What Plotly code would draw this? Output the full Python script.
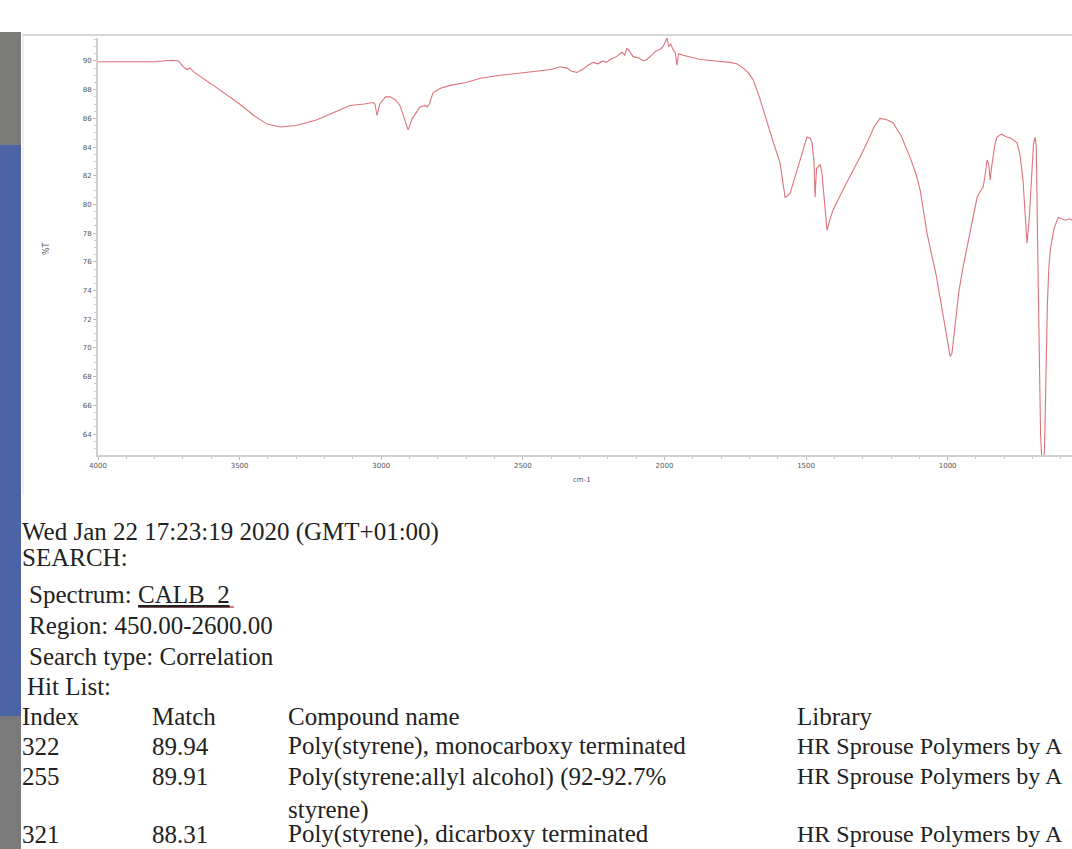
import plotly.graph_objects as go

# ---- data ----
wavenumber = [4000, 3900, 3800, 3740, 3715, 3700, 3686, 3675, 3660, 3600, 3500, 3450, 3403, 3357,
              3300, 3227, 3160, 3110, 3060, 3029, 3022, 3015, 3005, 2985, 2969, 2950, 2934, 2920,
              2905, 2890, 2863, 2845, 2838, 2830, 2817, 2790, 2757, 2700, 2650, 2580, 2500, 2450,
              2400, 2369, 2344, 2330, 2309, 2290, 2270, 2252, 2235, 2217, 2205, 2192, 2170, 2150,
              2140, 2133, 2120, 2111, 2090, 2075, 2062, 2045, 2030, 2016, 2005, 1998, 1991, 1985,
              1978, 1970, 1962, 1956, 1950, 1934, 1900, 1874, 1820, 1768, 1745, 1722, 1705, 1687,
              1665, 1638, 1615, 1592, 1580, 1574, 1565, 1556, 1530, 1510, 1497, 1485, 1479, 1472,
              1468, 1463, 1458, 1450, 1444, 1435, 1426, 1415, 1405, 1370, 1340, 1309, 1280, 1260,
              1239, 1215, 1193, 1165, 1133, 1110, 1097, 1073, 1040, 1010, 995, 991, 985, 975, 960,
              946, 931, 915, 896, 885, 875, 868, 861, 855, 850, 845, 840, 833, 826, 810, 791, 775,
              755, 745, 734, 725, 720, 712, 706, 702, 697, 691, 687, 683, 678, 672, 667, 663, 658,
              654, 648, 643, 638, 625, 610, 598, 585, 570, 561]
transmittance = [89.95, 89.95, 89.95, 90.05, 90.0, 89.6, 89.4, 89.5, 89.2, 88.4, 87.0, 86.2, 85.6, 85.4,
                 85.5, 85.9, 86.5, 86.9, 87.0, 87.1, 87.0, 86.2, 87.0, 87.5, 87.5, 87.3, 86.9, 86.0,
                 85.2, 86.0, 86.8, 86.9, 86.8, 87.0, 87.8, 88.1, 88.3, 88.5, 88.8, 89.0, 89.2, 89.3,
                 89.4, 89.6, 89.5, 89.3, 89.2, 89.4, 89.7, 89.9, 89.8, 90.0, 89.9, 90.1, 90.3, 90.6,
                 90.4, 90.9, 90.6, 90.3, 90.2, 90.0, 90.1, 90.4, 90.7, 90.8, 91.0, 91.3, 91.6, 91.0,
                 91.2, 90.8, 90.6, 89.7, 90.5, 90.4, 90.2, 90.1, 90.0, 89.9, 89.8, 89.5, 89.2, 88.7,
                 87.5, 85.7, 84.3, 82.9, 81.5, 80.5, 80.6, 80.8, 82.5, 83.9, 84.7, 84.6, 84.3, 83.0,
                 80.5, 82.5, 82.6, 82.8, 82.2, 80.0, 78.2, 79.0, 79.6, 81.0, 82.1, 83.3, 84.5, 85.4,
                 86.0, 85.9, 85.7, 84.8, 83.3, 82.0, 81.0, 78.0, 75.0, 71.5, 69.6, 69.4, 69.6, 71.5, 74.0,
                 75.6, 77.0, 78.5, 80.5, 80.9, 81.2, 82.0, 83.1, 82.8, 81.7, 82.6, 83.3, 84.2, 84.7, 84.9, 84.7, 84.6,
                 84.3, 83.5, 81.7, 78.5, 77.3, 79.0, 81.5, 82.9, 84.2, 84.7, 84.0, 78.0, 70.0, 64.0, 62.0, 61.5, 63.0,
                 68.0, 73.0, 75.5, 76.8, 78.3, 79.1, 79.0, 78.9, 79.0, 78.9]

y_ticks = [64, 66, 68, 70, 72, 74, 76, 78, 80, 82, 84, 86, 88, 90]
x_ticks = [4000, 3500, 3000, 2500, 2000, 1500, 1000]

header_lines = ["Wed Jan 22 17:23:19 2020 (GMT+01:00)", "SEARCH:"]
search_lines = ["Spectrum: <u>CALB_2</u>", "Region: 450.00-2600.00", "Search type: Correlation", "Hit List:"]
col_headers = ["Index", "Match", "Compound name", "Library"]
hit_index = ["322", "255", "321"]
hit_match = ["89.94", "89.91", "88.31"]
hit_name = ["Poly(styrene), monocarboxy terminated",
            "Poly(styrene:allyl alcohol) (92-92.7%<br>styrene)",
            "Poly(styrene), dicarboxy terminated"]
hit_library = ["HR Sprouse Polymers by A", "HR Sprouse Polymers by A", "HR Sprouse Polymers by A"]

W, H = 1072, 849


def py(px):
    return 1 - px / H


def pxx(px):
    return px / W


fig = go.Figure()
fig.add_trace(go.Scatter(x=wavenumber, y=transmittance, mode="lines",
                         line=dict(color="rgba(214,80,90,0.8)", width=1.1),
                         hoverinfo="skip", showlegend=False))

axis_font = dict(family="DejaVu Sans", size=7, color="#555555")
fig.update_layout(
    template="none",
    width=W, height=H,
    margin=dict(l=0, r=0, t=0, b=0, pad=0, autoexpand=False),
    paper_bgcolor="white", plot_bgcolor="white",
    showlegend=False,
    xaxis=dict(domain=[pxx(98), 1.0], range=[4000, 561], tickvals=x_ticks, automargin=False,
               showgrid=False, zeroline=False, showline=True, linecolor="#d0d0d0", linewidth=2,
               ticks="outside", ticklen=3, tickcolor="#bbbbbb", tickfont=axis_font,
               minor=dict(ticks="outside", ticklen=2, dtick=100, tickcolor="#cccccc")),
    yaxis=dict(domain=[py(455), py(38)], range=[62.54, 91.6], tickvals=y_ticks, automargin=False,
               showgrid=False, zeroline=False, showline=True, linecolor="#d0d0d0", linewidth=2,
               ticks="outside", ticklen=3, tickcolor="#bbbbbb", tickfont=axis_font,
               minor=dict(ticks="outside", ticklen=2, dtick=0.5, tickcolor="#cccccc")),
)

shapes = [
    # left strip of the photographed screen
    dict(type="rect", xref="paper", yref="paper", x0=0, x1=pxx(21), y0=py(145), y1=py(32),
         fillcolor="#7b7b79", line=dict(width=0), layer="below"),
    dict(type="rect", xref="paper", yref="paper", x0=0, x1=pxx(21), y0=py(716), y1=py(145),
         fillcolor="#4c63a6", line=dict(width=0), layer="below"),
    dict(type="rect", xref="paper", yref="paper", x0=0, x1=pxx(21), y0=0, y1=py(716),
         fillcolor="#7a7a7a", line=dict(width=0), layer="below"),
    # window border lines
    dict(type="line", xref="paper", yref="paper", x0=pxx(22), x1=1, y0=py(35), y1=py(35),
         line=dict(color="#d6d6d6", width=2)),
    dict(type="line", xref="paper", yref="paper", x0=pxx(23), x1=pxx(23), y0=py(495), y1=py(35),
         line=dict(color="#e2e2e2", width=1)),
    # red spell-check underline under CALB_2
    dict(type="line", xref="paper", yref="paper", x0=pxx(140), x1=pxx(234), y0=py(607), y1=py(607),
         line=dict(color="#d05060", width=1.5)),
]
fig.update_layout(shapes=shapes)

ann = []
tfont = dict(family="Liberation Serif", size=25, color="#222222")
libfont = dict(family="Liberation Serif", size=24, color="#222222")


def text(x, y, s, font=tfont, yanchor="middle"):
    ann.append(dict(x=pxx(x), y=py(y), xref="paper", yref="paper", text=s, showarrow=False,
                    xanchor="left", yanchor=yanchor, align="left", font=font))


text(20, 532, header_lines[0])
text(20, 557, header_lines[1])
for s, y, x in zip(search_lines, [594, 625, 656, 686], [27, 27, 27, 25]):
    text(x, y, s)
for s, x in zip(col_headers, [20, 150, 286, 795]):
    text(x, 716, s)
row_y = [746, 776, 834]
for i in range(3):
    text(20, row_y[i], hit_index[i])
    text(150, row_y[i], hit_match[i])
    text(795, row_y[i], hit_library[i], font=libfont)
text(286, row_y[0], hit_name[0])
text(286, row_y[1] - 15, hit_name[1], yanchor="top")
text(286, row_y[2], hit_name[2])

# axis titles
ann.append(dict(x=pxx(40), y=py(240), xref="paper", yref="paper", text="%T", showarrow=False,
                textangle=-90, font=dict(family="DejaVu Sans", size=8, color="#555555")))
ann.append(dict(x=pxx(582), y=py(480), xref="paper", yref="paper", text="cm-1", showarrow=False,
                font=dict(family="DejaVu Sans", size=7, color="#555555")))
fig.update_layout(annotations=ann)

fig.write_html("out.html", config={"displayModeBar": False},
               post_script="document.body.style.margin='0';")
